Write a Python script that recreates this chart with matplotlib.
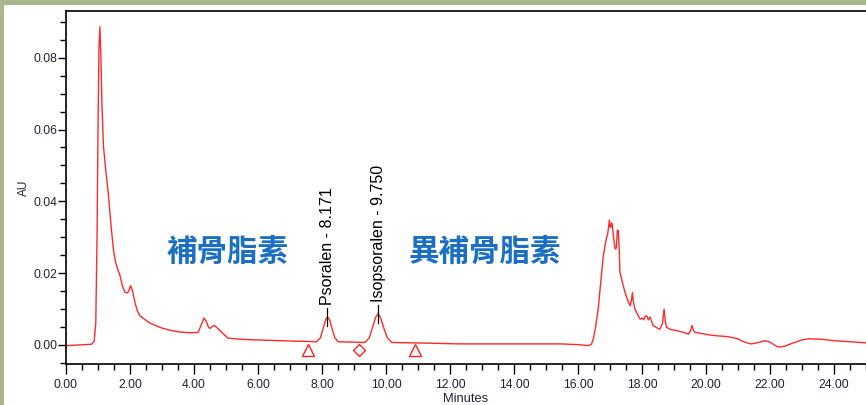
import matplotlib.pyplot as plt
from matplotlib.patches import Rectangle
from matplotlib.ticker import MultipleLocator, FormatStrFormatter

plt.rcParams['font.family'] = ['Liberation Sans', 'DejaVu Sans']

# retention time (min) and detector response (AU)
time = [0.00, 0.40, 0.80, 0.88, 0.93, 0.97, 1.00, 1.03, 1.06, 1.09, 1.12, 1.17,
        1.25, 1.32, 1.40, 1.48, 1.55, 1.62, 1.69, 1.76, 1.84, 1.92, 1.97, 2.02,
        2.08, 2.15, 2.23, 2.31, 2.45, 2.60, 2.80, 3.00, 3.30, 3.56, 3.90, 4.13,
        4.22, 4.31, 4.38, 4.45, 4.50, 4.58, 4.64, 4.72, 4.81, 4.95, 5.07, 5.30,
        5.65, 6.30, 7.00, 7.50, 7.83, 7.95, 8.05, 8.12, 8.17, 8.23, 8.30, 8.40,
        8.51, 8.90, 9.34, 9.48, 9.58, 9.68, 9.75, 9.82, 9.92, 10.04, 10.18, 10.80,
        11.35, 12.30, 13.50, 14.50, 15.44, 16.00, 16.32, 16.42, 16.48, 16.55, 16.63, 16.71,
        16.79, 16.88, 16.93, 16.98, 17.00, 17.02, 17.05, 17.07, 17.11, 17.16, 17.20, 17.23,
        17.26, 17.29, 17.31, 17.40, 17.47, 17.55, 17.63, 17.67, 17.70, 17.73, 17.78, 17.86,
        17.94, 18.00, 18.05, 18.10, 18.15, 18.20, 18.25, 18.35, 18.50, 18.56, 18.64, 18.69,
        18.73, 18.77, 18.90, 19.08, 19.30, 19.45, 19.52, 19.56, 19.61, 19.66, 19.80, 20.10,
        20.30, 20.70, 21.00, 21.20, 21.40, 21.60, 21.84, 22.00, 22.10, 22.26, 22.45, 22.70,
        23.00, 23.19, 23.60, 24.00, 24.50, 25.00]
signal = [-0.0002, 0.0000, 0.0002, 0.0010, 0.0060, 0.0300, 0.0600, 0.0830, 0.0886, 0.0800, 0.0680, 0.0554,
          0.0480, 0.0424, 0.0340, 0.0267, 0.0230, 0.0210, 0.0193, 0.0165, 0.0147, 0.0145, 0.0152, 0.0165,
          0.0150, 0.0120, 0.0095, 0.0081, 0.0072, 0.0062, 0.0054, 0.0047, 0.0040, 0.0036, 0.0034, 0.0035,
          0.0055, 0.0075, 0.0066, 0.0050, 0.0046, 0.0052, 0.0054, 0.0048, 0.0040, 0.0028, 0.0019, 0.0017,
          0.0015, 0.0013, 0.0011, 0.0010, 0.0009, 0.0020, 0.0050, 0.0072, 0.0077, 0.0072, 0.0050, 0.0020,
          0.0009, 0.0008, 0.0007, 0.0020, 0.0050, 0.0078, 0.0086, 0.0078, 0.0050, 0.0020, 0.0007, 0.0006,
          0.0005, 0.0003, 0.0003, 0.0003, 0.0003, 0.0001, -0.0002, 0.0002, 0.0017, 0.0050, 0.0100, 0.0175,
          0.0248, 0.0294, 0.0310, 0.0348, 0.0330, 0.0327, 0.0340, 0.0336, 0.0300, 0.0267, 0.0270, 0.0320,
          0.0318, 0.0260, 0.0203, 0.0170, 0.0146, 0.0125, 0.0109, 0.0125, 0.0146, 0.0120, 0.0100, 0.0085,
          0.0072, 0.0075, 0.0070, 0.0080, 0.0081, 0.0070, 0.0078, 0.0054, 0.0046, 0.0044, 0.0060, 0.0100,
          0.0065, 0.0049, 0.0043, 0.0040, 0.0035, 0.0030, 0.0040, 0.0054, 0.0040, 0.0035, 0.0033, 0.0028,
          0.0026, 0.0023, 0.0017, 0.0008, 0.0003, 0.0006, 0.0012, 0.0008, 0.0002, -0.0006, -0.0004, 0.0005,
          0.0014, 0.0017, 0.0016, 0.0012, 0.0009, 0.0006]

# named peaks
peak_names = ['Psoralen', 'Isopsoralen']
peak_rt = [8.171, 9.750]
peak_height = [0.0077, 0.0086]

# integration baseline markers
start_rt = [7.57, 10.92]
valley_rt = [9.16]
marker_level = -0.0013

# compound names written on the chart
cn_labels = ['補骨脂素', '異補骨脂素']
cn_pos = [(5.05, 0.0259), (13.08, 0.0259)]

fig = plt.figure(figsize=(8.66, 4.05), dpi=100)
fig.patch.set_facecolor('#a9b78f')
fig.patches.append(Rectangle((3.5 / 866, 0), 1, 400 / 405, transform=fig.transFigure,
                             facecolor='white', edgecolor='none', zorder=-5))

ax = fig.add_axes([66 / 866, 41 / 405, 800 / 866, 353 / 405])
ax.set_facecolor('white')

ax.plot(time, signal, color='#ff2a2a', linewidth=1.0)

ax.plot(start_rt, [marker_level] * len(start_rt), linestyle='none', marker='^',
        markersize=8.5, markerfacecolor='none', markeredgecolor='#ff2020', markeredgewidth=1.0)
ax.plot(valley_rt, [marker_level] * len(valley_rt), linestyle='none', marker='D',
        markersize=6.5, markerfacecolor='none', markeredgecolor='#ff2020', markeredgewidth=1.0)

for name, rt, h in zip(peak_names, peak_rt, peak_height):
    ax.plot([rt, rt], [h - 0.0025, h + 0.0025], color='black', linewidth=0.9)
    ax.text(rt, h + 0.0035, f'{name} - {rt:.3f}', rotation=90, ha='center', va='bottom',
            fontsize=11.5, color='black')

for label, (x, y) in zip(cn_labels, cn_pos):
    ax.text(x, y, label, ha='center', va='center', fontsize=22, fontweight='bold',
            color='#1a6fc2', family=['Noto Sans CJK TC', 'DejaVu Sans'])

ax.set_xlim(0, 25.0)
ax.set_ylim(-0.0053, 0.093)

ax.xaxis.set_major_locator(MultipleLocator(2))
ax.xaxis.set_minor_locator(MultipleLocator(0.5))
ax.yaxis.set_major_locator(MultipleLocator(0.02))
ax.yaxis.set_minor_locator(MultipleLocator(0.005))
ax.xaxis.set_major_formatter(FormatStrFormatter('%.2f'))
ax.yaxis.set_major_formatter(FormatStrFormatter('%.2f'))
ax.tick_params(which='major', length=7, width=1.0, labelsize=8.7, labelcolor='#1e2436')
ax.tick_params(which='minor', length=4, width=1.0)
ax.tick_params(axis='y', which='major', length=6, pad=0)

ax.spines['right'].set_visible(False)
for side in ['left', 'bottom', 'top']:
    ax.spines[side].set_linewidth(1.2)

ax.set_xlabel('Minutes', fontsize=9.3, color='#1e2436', labelpad=1.5)
ax.set_ylabel('AU', fontsize=8.5, color='#1e2436', labelpad=3)

fig.savefig('out.png', dpi=100)
